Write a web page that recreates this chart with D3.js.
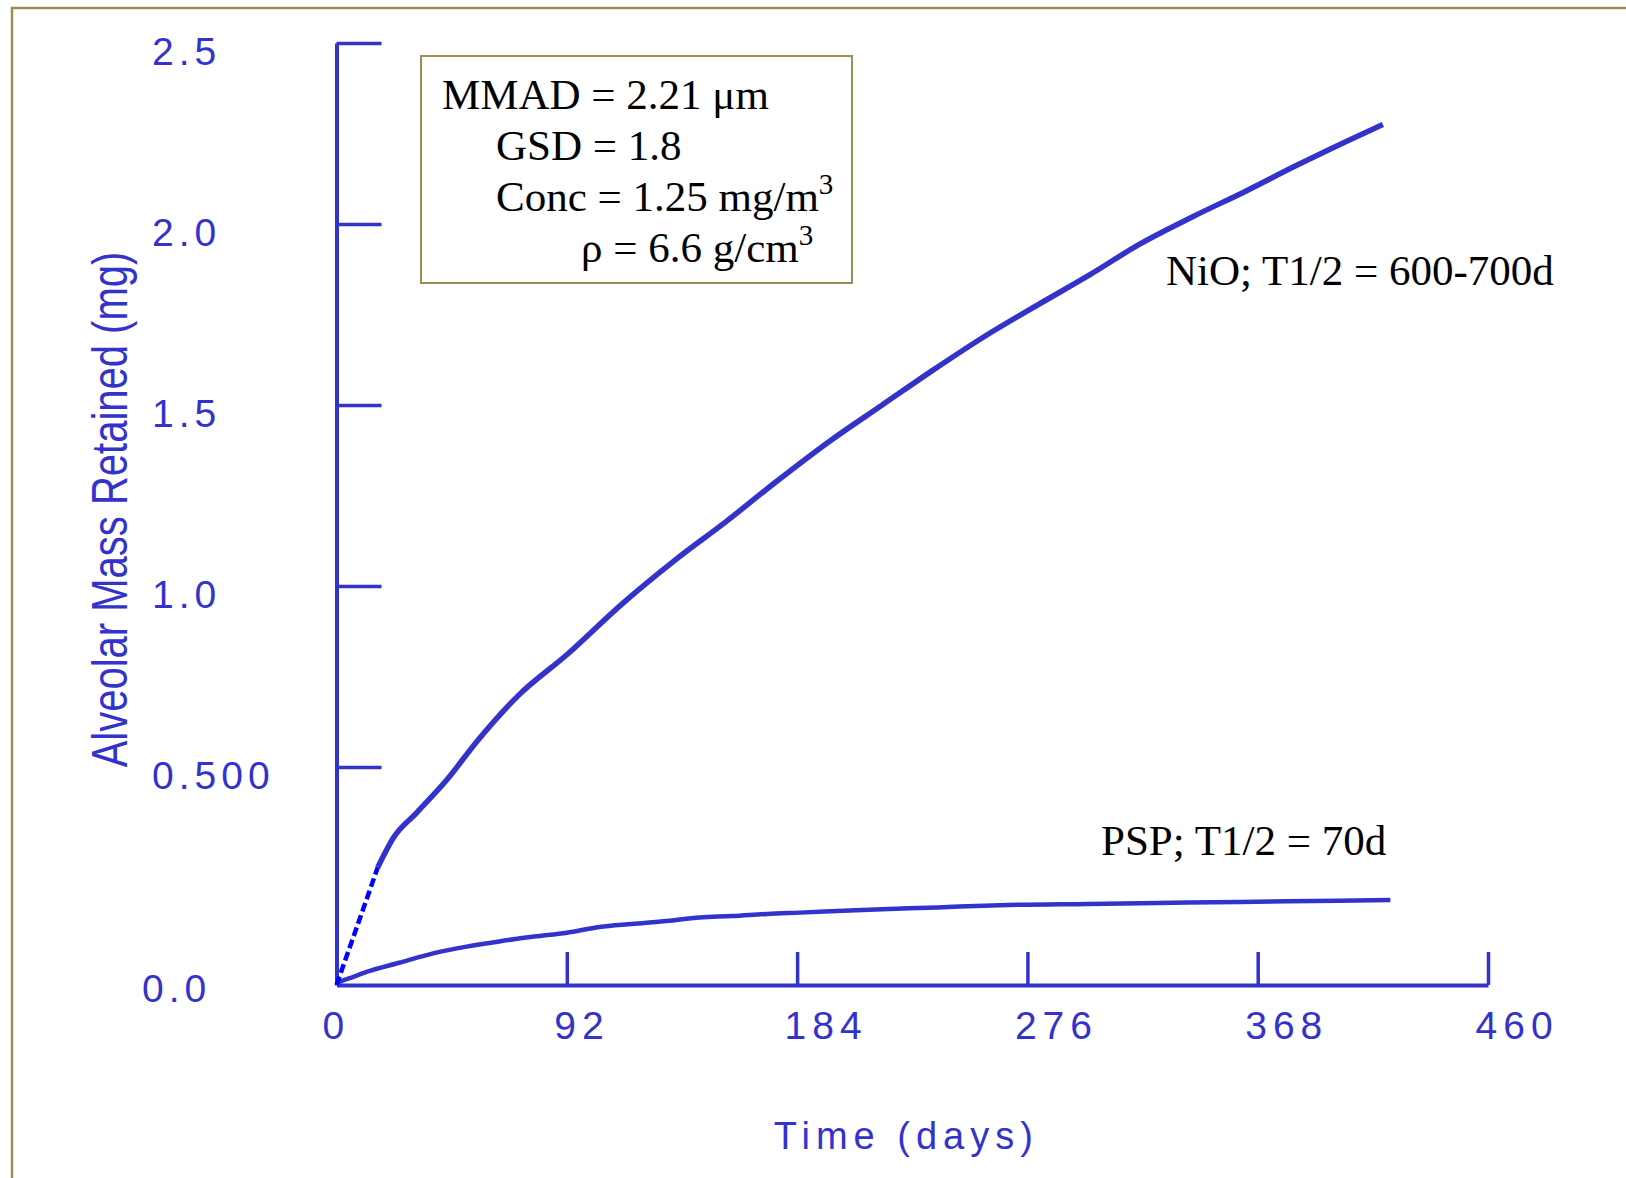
<!DOCTYPE html>
<html><head><meta charset="utf-8">
<script src="https://cdn.jsdelivr.net/npm/d3@7"></script>
<style>body{margin:0;background:#fff}svg{display:block}</style>
</head><body>
<script>
// ---- data ----
const nioDashDays = [0, 16.5];
const nioDashMass = [0, 0.27];
const nioDays = [16.5, 23, 32, 44, 56, 73, 92, 114, 135, 156, 176, 197, 218, 238, 259, 280, 301, 321, 342, 363, 383, 404, 418];
const nioMass = [0.27, 0.34, 0.395, 0.47, 0.57, 0.70, 0.81, 0.95, 1.07, 1.18, 1.29, 1.40, 1.50, 1.595, 1.69, 1.776, 1.86, 1.945, 2.02, 2.09, 2.16, 2.23, 2.275];
const pspDays = [0, 5, 12, 25, 39, 52, 65, 79, 92, 105, 118, 132, 145, 158, 172, 185, 210, 240, 265, 300, 340, 380, 421];
const pspMass = [0.005, 0.015, 0.030, 0.051, 0.073, 0.088, 0.100, 0.111, 0.120, 0.133, 0.140, 0.147, 0.155, 0.158, 0.163, 0.166, 0.172, 0.178, 0.183, 0.186, 0.189, 0.192, 0.195];
const xTickValues = [0, 92, 184, 276, 368, 460];
const xTickLabels = ["0", "92", "184", "276", "368", "460"];
const yTickValues = [0, 0.5, 1, 1.5, 2, 2.5];
const yTickLabels = ["0.0", "0.500", "1.0", "1.5", "2.0", "2.5"];
const xTitle = "Time (days)";
const yTitle = "Alveolar Mass Retained (mg)";
const seriesLabels = ["NiO; T1/2 = 600-700d", "PSP; T1/2 = 70d"];
// legend lines: [main text, superscript]
const legendLines = [["MMAD = 2.21 \u03bcm", ""], ["GSD = 1.8", ""], ["Conc = 1.25 mg/m", "3"], ["\u03c1 = 6.6 g/cm", "3"]];

// ---- drawing ----
const W = 1626, H = 1178;
const BLUE = "#3333cc", OLIVE = "#998f55";
const svg = d3.select("body").append("svg").attr("width", W).attr("height", H);

svg.append("rect").attr("x", 12).attr("y", 8).attr("width", W).attr("height", H)
  .attr("fill", "none").attr("stroke", OLIVE).attr("stroke-width", 2.5);

const x = d3.scaleLinear().domain([0, 460]).range([336.5, 1488]);
const y = d3.scaleLinear().domain([0, 0.5, 2.5]).range([985, 767, 43]);

const tickFont = "'Liberation Sans', Arial, sans-serif";

// y axis
const gy = svg.append("g").attr("transform", `translate(${x(0)},0)`)
  .call(d3.axisRight(y).tickValues(yTickValues.slice(1)).tickSize(45).tickSizeOuter(0)
    .tickFormat(d => yTickLabels[yTickValues.indexOf(d)]));
gy.attr("font-family", tickFont).attr("font-size", 39);
gy.select(".domain").attr("stroke", BLUE).attr("stroke-width", 4);
gy.selectAll(".tick line").attr("stroke", BLUE).attr("stroke-width", 3.5);
gy.selectAll(".tick text").attr("fill", BLUE).attr("x", 152 - x(0)).attr("text-anchor", "start")
  .attr("y", 8).attr("dy", "0.35em").attr("letter-spacing", 5);

// x axis
const gx = svg.append("g").attr("transform", `translate(0,${y(0)})`)
  .call(d3.axisTop(x).tickValues(xTickValues.slice(1)).tickSize(33).tickSizeOuter(0)
    .tickFormat(d => xTickLabels[xTickValues.indexOf(d)]));
gx.attr("font-family", tickFont).attr("font-size", 39);
gx.select(".domain").attr("stroke", BLUE).attr("stroke-width", 4);
gx.selectAll(".tick line").attr("stroke", BLUE).attr("stroke-width", 3.5);
gx.selectAll(".tick text").attr("fill", BLUE).attr("x", -13).attr("text-anchor", "start")
  .attr("y", 54).attr("dy", 0).attr("letter-spacing", 6);

// origin labels
svg.append("text").attr("x", x(xTickValues[0]) - 14).attr("y", y(0) + 54)
  .attr("font-family", tickFont).attr("font-size", 39).attr("fill", BLUE).text(xTickLabels[0]);
svg.append("text").attr("x", 142).attr("y", y(yTickValues[0]) + 17)
  .attr("font-family", tickFont).attr("font-size", 39).attr("fill", BLUE).attr("letter-spacing", 5).text(yTickLabels[0]);

// axis titles
svg.append("text").attr("x", (x(0) + x(460)) / 2 - 6).attr("y", 1149)
  .attr("text-anchor", "middle").attr("font-family", tickFont).attr("font-size", 38)
  .attr("letter-spacing", 6).attr("fill", BLUE).text(xTitle);
svg.append("text").attr("transform", "translate(127,509.5) rotate(-90) scale(0.8,1)")
  .attr("text-anchor", "middle").attr("font-family", tickFont).attr("font-size", 50)
  .attr("fill", BLUE).text(yTitle);

// lines
const line = d3.line().x(d => x(d[0])).y(d => y(d[1])).curve(d3.curveMonotoneX);
svg.append("path").datum(pspDays.map((d, i) => [d, pspMass[i]]))
  .attr("d", line).attr("fill", "none").attr("stroke", BLUE).attr("stroke-width", 4.5);
svg.append("path").datum(nioDays.map((d, i) => [d, nioMass[i]]))
  .attr("d", line).attr("fill", "none").attr("stroke", BLUE).attr("stroke-width", 5.5);
svg.append("path").datum(nioDashDays.map((d, i) => [d, nioDashMass[i]]))
  .attr("d", d3.line().x(d => x(d[0])).y(d => y(d[1]))).attr("fill", "none").attr("stroke", "#0000ff").attr("stroke-width", 4.5)
  .attr("stroke-dasharray", "9,4");

// series labels
const serif = "'Liberation Serif', 'Times New Roman', serif";
svg.append("text").attr("x", 1166).attr("y", 285).attr("font-family", serif).attr("font-size", 43)
  .attr("fill", "#000").text(seriesLabels[0]);
svg.append("text").attr("x", 1101).attr("y", 855).attr("font-family", serif).attr("font-size", 43)
  .attr("fill", "#000").text(seriesLabels[1]);

// legend box
svg.append("rect").attr("x", 421).attr("y", 56).attr("width", 431).attr("height", 227)
  .attr("fill", "#fff").attr("stroke", OLIVE).attr("stroke-width", 2);
const legX = [442, 496, 496, 581];
const legY = [109, 160, 211, 262];
legendLines.forEach((l, i) => {
  const t = svg.append("text").attr("x", legX[i]).attr("y", legY[i]).attr("font-family", serif)
    .attr("font-size", 43).attr("fill", "#000");
  t.append("tspan").text(l[0]);
  if (l[1]) t.append("tspan").attr("dy", -17).attr("font-size", 29).text(l[1]);
});
</script>
</body></html>
